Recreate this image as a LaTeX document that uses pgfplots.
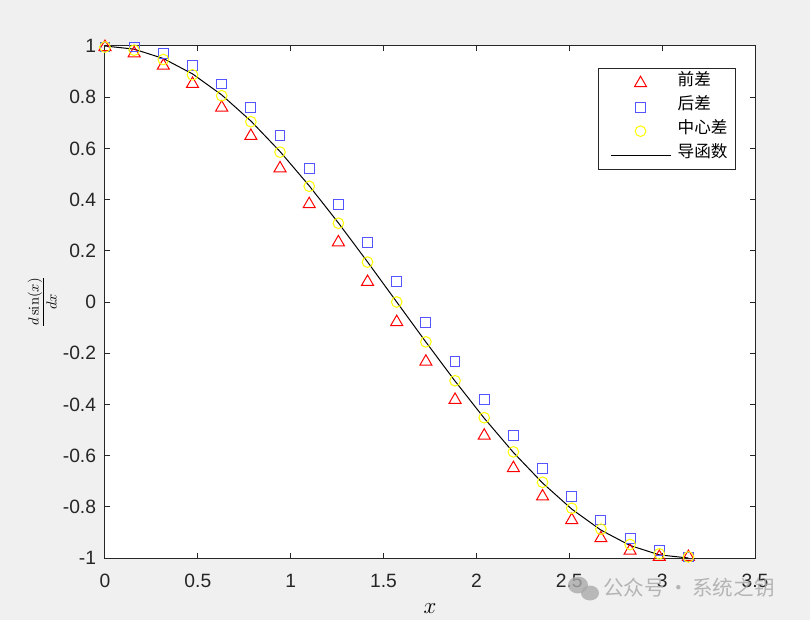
\documentclass[border=0pt]{standalone}
\usepackage[no-math]{fontspec}
\setmainfont{Liberation Sans}
\newfontfamily\cjk{Noto Sans CJK SC}
\usepackage{pgfplots}
\pgfplotsset{compat=1.18}
\usepackage{pgfplotstable}

\definecolor{figbg}{RGB}{240,240,240}
\definecolor{axgray}{RGB}{38,38,38}
\definecolor{mblue}{RGB}{85,85,255}
\definecolor{myellow}{RGB}{255,255,0}
\definecolor{wmgray}{RGB}{170,170,170}

% x = 0:pi/20:pi, forward / backward / central differences and cos(x)
\pgfplotstableread{
x        fwd      bwd      cen      exact
0.00000  0.9959   0.9959   0.9959   1.0000
0.15708  0.9714   0.9959   0.9836   0.9877
0.31416  0.9229   0.9714   0.9472   0.9511
0.47124  0.8518   0.9229   0.8874   0.8910
0.62832  0.7596   0.8518   0.8057   0.8090
0.78540  0.6488   0.7596   0.7042   0.7071
0.94248  0.5220   0.6488   0.5854   0.5878
1.09956  0.3823   0.5220   0.4521   0.4540
1.25664  0.2332   0.3823   0.3077   0.3090
1.41372  0.0784   0.2332   0.1558   0.1564
1.57080  -0.0784  0.0784   0.0000   0.0000
1.72788  -0.2332  -0.0784  -0.1558  -0.1564
1.88496  -0.3823  -0.2332  -0.3077  -0.3090
2.04204  -0.5220  -0.3823  -0.4521  -0.4540
2.19911  -0.6488  -0.5220  -0.5854  -0.5878
2.35619  -0.7596  -0.6488  -0.7042  -0.7071
2.51327  -0.8518  -0.7596  -0.8057  -0.8090
2.67035  -0.9229  -0.8518  -0.8874  -0.8910
2.82743  -0.9714  -0.9229  -0.9472  -0.9511
2.98451  -0.9959  -0.9714  -0.9836  -0.9877
3.14159  -0.9959  -0.9959  -0.9959  -1.0000
}\diffdata

\begin{document}
\begin{tikzpicture}
  % figure background, in pixel coordinates of the 810x620 figure
  \begin{scope}[shift={(-78.75bp,418.5bp)},x=0.75bp,y=-0.75bp]
    \fill[figbg] (0,0) rectangle (810,620);
  \end{scope}

  \begin{axis}[
    at={(0,0)}, anchor=south west,
    scale only axis,
    width=487.5bp, height=384bp,
    xmin=0, xmax=3.5, ymin=-1, ymax=1,
    xtick={0,0.5,1,1.5,2,2.5,3,3.5},
    ytick={-1,-0.8,-0.6,-0.4,-0.2,0,0.2,0.4,0.6,0.8,1},
    axis background/.style={fill=white},
    axis line style={axgray, line width=0.75bp},
    tick style={axgray, line width=0.75bp},
    tick align=inside,
    major tick length=3.75bp,
    /pgf/number format/assume math mode=true,
    ticklabel style={font=\fontsize{14.5}{17}\selectfont, text=axgray, inner sep=0pt},
    xticklabel style={yshift=-12bp},
    yticklabel style={xshift=-6.5bp},
    xlabel={$x$},
    ylabel={$\frac{d\sin(x)}{dx}$},
    label style={font=\fontsize{16}{19}\selectfont},
    xlabel style={at={(0.5,0)}, anchor=north, yshift=-34bp, inner sep=0pt},
    ylabel style={at={(0,0.5)}, anchor=south, yshift=36bp, inner sep=0pt},
    legend image code/.code={%
      \path (0bp,0bp);
      \draw[mark repeat=2,mark phase=2,#1]
        plot coordinates {(3bp,0bp) (25.5bp,0bp) (48bp,0bp)};},
    legend cell align=left,
    legend style={
      at={(0.9708,0.957)}, anchor=north east,
      draw=axgray, line width=0.75bp, fill=white,
      font=\cjk\fontsize{12.5}{15}\selectfont,
      inner xsep=6bp, inner ysep=2bp,
      nodes={inner sep=0pt, text height=11bp, text depth=7bp},
      /tikz/every odd column/.append style={column sep=5bp},
    },
  ]
    \addplot[only marks, mark=triangle, mark size=5.2bp, red, line width=0.75bp]
      table[x=x, y=fwd] {\diffdata};
    \addplot[only marks, mark=square, mark size=3.7bp, mblue, line width=0.75bp]
      table[x=x, y=bwd] {\diffdata};
    \addplot[only marks, mark=o, mark size=4bp, myellow, line width=0.75bp]
      table[x=x, y=cen] {\diffdata};
    \addplot[black, line width=0.75bp, no marks]
      table[x=x, y=exact] {\diffdata};
    \legend{前差, 后差, 中心差, 导函数}
  \end{axis}

  % watermark
  \begin{scope}[shift={(-78.75bp,418.5bp)},x=0.75bp,y=-0.75bp]
    \fill[wmgray, opacity=0.8] (578,585) ellipse (10 and 8.5);
    \fill[wmgray, opacity=0.8] (590,593) ellipse (9 and 7.5);
    \node[anchor=west, inner sep=0pt, text=wmgray, opacity=0.85,
          font=\cjk\fontsize{15.5}{18}\selectfont] at (603,588)
          {公众号\hspace{2.5bp}·\hspace{2.5bp}系统之钥};
  \end{scope}

  \pgfresetboundingbox
  \begin{scope}[shift={(-78.75bp,418.5bp)},x=0.75bp,y=-0.75bp]
    \path[use as bounding box] (0,0) rectangle (810,620);
  \end{scope}
\end{tikzpicture}
\end{document}
